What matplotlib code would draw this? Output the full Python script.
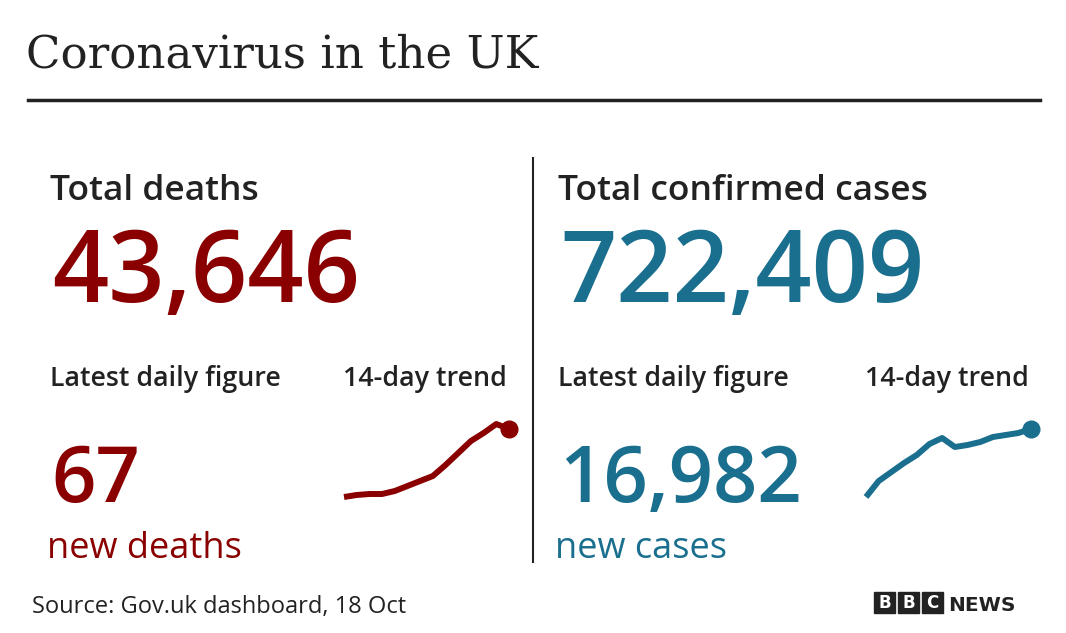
import matplotlib.pyplot as plt

W, H = 1066, 633
red = '#8a0000'
blue = '#1a6f8f'

total_deaths = '43,646'
total_cases = '722,409'
daily_deaths = '67'
daily_cases = '16,982'
deaths_trend = [3, 5, 6, 6, 9, 14, 19, 24, 35, 47, 59, 67, 76, 71]
cases_trend = [3, 19, 28, 37, 45, 56, 62, 53, 55, 58, 63, 65, 67, 71]

fig = plt.figure(figsize=(W / 100, H / 100), dpi=100)
fs = 'Open Sans'
sb = 'semibold'


def t(x, y, s, **kw):
    fig.text(x / W, 1 - y / H, s, **kw)


t(26, 67, 'Coronavirus in the UK', fontsize=32.5, family='DejaVu Serif', color='#222222')
fig.add_artist(plt.Line2D([28 / W, 1040 / W], [1 - 100 / H] * 2, color='#222222', lw=2.5))
fig.add_artist(plt.Line2D([533 / W] * 2, [1 - 158 / H, 1 - 562 / H], color='#222222', lw=1.5))

for x0, tx, title, total, daily, unit, col, trend in [
        (50, 344, 'Total deaths', total_deaths, daily_deaths, 'new deaths', red, deaths_trend),
        (558, 866, 'Total confirmed cases', total_cases, daily_cases, 'new cases', blue, cases_trend)]:
    t(x0, 200, title, fontsize=25.5, family=fs, weight=sb, color='#222222')
    t(x0 + 2, 302, total, fontsize=71, family=fs, weight=sb, color=col)
    t(x0, 386, 'Latest daily figure', fontsize=19.3, family=fs, weight=sb, color='#222222')
    t(tx - 1, 386, '14-day trend', fontsize=19.3, family=fs, weight=sb, color='#222222')
    t(x0 + 1, 502, daily, fontsize=56, family=fs, weight=sb, color=col)
    t(x0 - 3, 558, unit, fontsize=26, family=fs, color=col)
    ax = fig.add_axes([tx / W, (H - 500) / H, 165 / W, 80 / H])
    xs = range(len(trend))
    ax.plot(xs, trend, color=col, lw=4.3, solid_capstyle='butt', clip_on=False)
    ax.plot([xs[-1]], [trend[-1]], 'o', color=col, ms=12, clip_on=False)
    ax.set_xlim(0, len(trend) - 1)
    ax.set_ylim(0, 80)
    ax.axis('off')

t(32, 613, 'Source: Gov.uk dashboard, 18 Oct', fontsize=17, family=fs, color='#222222')
for i, ch in enumerate('BBC'):
    bx = 874 + i * 24
    fig.patches.append(plt.Rectangle((bx / W, 1 - 613 / H), 21 / W, 21 / H,
                                     transform=fig.transFigure, color='#222222'))
    t(bx + 10.5, 603, ch, fontsize=12, family='DejaVu Sans', weight='bold', color='white',
      ha='center', va='center')
t(948, 611, 'NEWS', fontsize=14.5, family='DejaVu Sans', weight='bold', color='#222222')

fig.savefig('out.png', dpi=100, facecolor='white')
